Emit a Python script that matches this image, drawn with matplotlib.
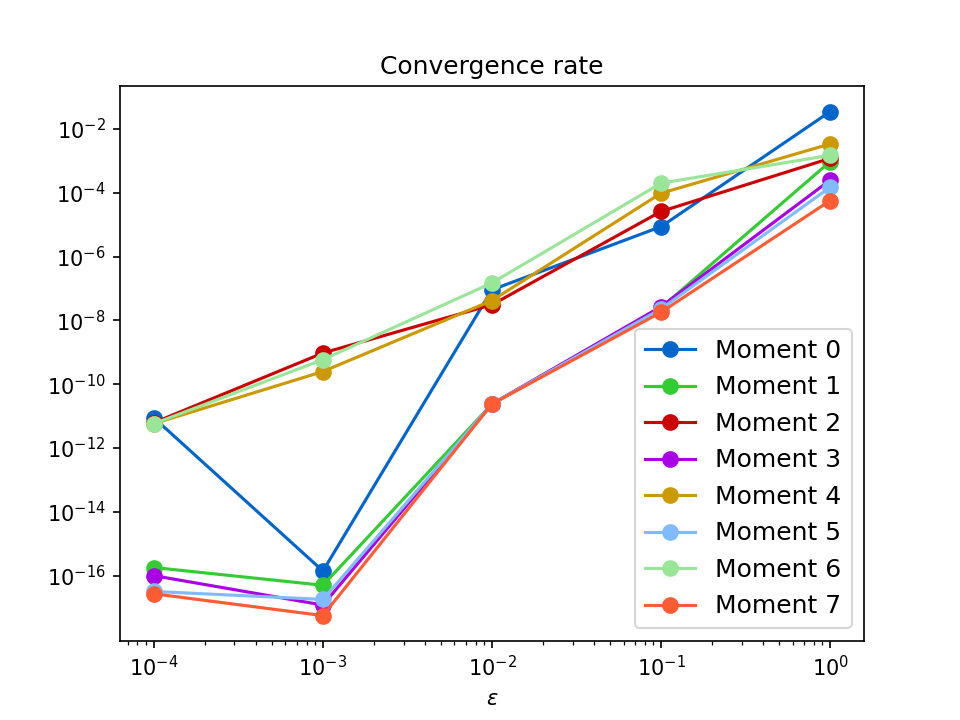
import matplotlib
matplotlib.use('Agg')
import matplotlib.pyplot as plt
from matplotlib.ticker import NullLocator

eps = [1e-4, 1e-3, 1e-2, 1e-1, 1e0]

moment0 = [8.9e-12, 1.4e-16, 9.1e-8, 8.7e-6, 3.5e-2]
moment1 = [1.8e-16, 5.0e-17, 2.4e-11, 2.5e-8, 9.5e-4]
moment2 = [6.2e-12, 9.5e-10, 3.1e-8, 2.6e-5, 1.2e-3]
moment3 = [1.0e-16, 1.2e-17, 2.4e-11, 2.7e-8, 2.5e-4]
moment4 = [5.8e-12, 2.5e-10, 4.2e-8, 9.7e-5, 3.4e-3]
moment5 = [3.2e-17, 1.8e-17, 2.4e-11, 2.3e-8, 1.5e-4]
moment6 = [5.8e-12, 5.9e-10, 1.5e-7, 2.0e-4, 1.5e-3]
moment7 = [2.7e-17, 5.6e-18, 2.4e-11, 1.8e-8, 5.7e-5]

yticks = [1e-16, 1e-14, 1e-12, 1e-10, 1e-8, 1e-6, 1e-4, 1e-2]

moments = [moment0, moment1, moment2, moment3, moment4, moment5, moment6, moment7]
colors = ['#0066cc', '#33cc33', '#cc0000', '#aa00e6', '#cc9900',
          '#80bbff', '#99e699', '#ff5c33']

fig, ax = plt.subplots(figsize=(6.4, 4.8), dpi=150)
for i, (vals, c) in enumerate(zip(moments, colors)):
    ax.plot(eps, vals, '-o', color=c, lw=1.5, ms=7, label=f'Moment {i}')

ax.set_xscale('log')
ax.set_yscale('log')
ax.set_yticks(yticks)
ax.yaxis.set_minor_locator(NullLocator())
ax.set_title('Convergence rate')
ax.set_xlabel(r'$\epsilon$')
ax.legend(loc='lower right', fontsize=12)

fig.savefig('out.png', dpi=150)
